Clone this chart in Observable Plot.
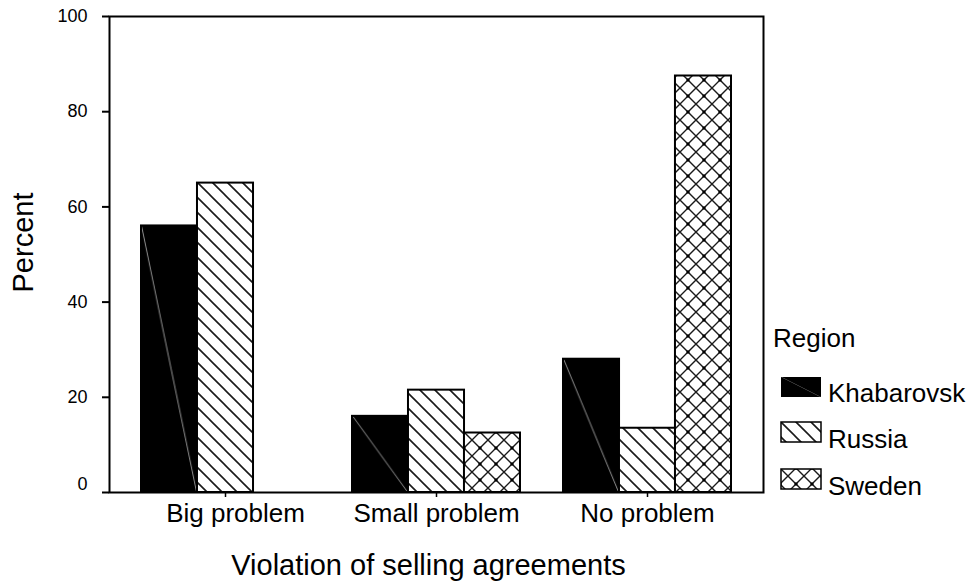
<!DOCTYPE html>
<html>
<head>
<meta charset="utf-8">
<script src="https://cdn.jsdelivr.net/npm/d3@7"></script>
<script src="https://cdn.jsdelivr.net/npm/@observablehq/plot@0.6"></script>
<style>
  html, body { margin: 0; padding: 0; background: #fff; }
  #wrap { position: relative; width: 970px; height: 584px; font-family: "Liberation Sans", Arial, sans-serif; color: #000; }
  .lg { position: absolute; line-height: 1; white-space: nowrap; }
  .sw { position: absolute; }
</style>
</head>
<body>
<svg width="0" height="0" style="position:absolute">
  <defs>
    <pattern id="pKhab" patternUnits="objectBoundingBox" patternContentUnits="objectBoundingBox" width="1" height="1">
      <rect x="0" y="0" width="1" height="1" fill="#000"></rect>
      <path d="M0,0L0.016,0L1,1L0.984,1Z" fill="#a0a0a0"></path>
    </pattern>
    <pattern id="pRussia" patternUnits="userSpaceOnUse" width="15" height="15">
      <rect x="0" y="0" width="15" height="15" fill="#fff"></rect>
      <path d="M0,0L15,15M-2,13L2,17M13,-2L17,2" stroke="#1a1a1a" stroke-width="1.6"></path>
    </pattern>
    <pattern id="pSweden" patternUnits="userSpaceOnUse" width="16" height="16">
      <rect x="0" y="0" width="16" height="16" fill="#fff"></rect>
      <path d="M0,0L16,16M16,0L0,16" stroke="#1a1a1a" stroke-width="1.4"></path>
      <rect x="-1.5" y="-1.5" width="3" height="3" fill="#000"></rect>
      <rect x="14.5" y="-1.5" width="3" height="3" fill="#000"></rect>
      <rect x="-1.5" y="14.5" width="3" height="3" fill="#000"></rect>
      <rect x="14.5" y="14.5" width="3" height="3" fill="#000"></rect>
    </pattern>
  </defs>
</svg>
<div id="wrap"></div>
<script>
// ---- data ----
const categories = ["Big problem", "Small problem", "No problem"];
const regions = ["Khabarovsk", "Russia", "Sweden"];
const khabarovsk = [56, 16, 28];
const russia = [65, 21.5, 13.5];
const sweden = [0, 12.5, 87.5];
const yTicks = [0, 20, 40, 60, 80, 100];
const xTitle = "Violation of selling agreements";
const yTitle = "Percent";
const legendTitle = "Region";

const seriesValues = [khabarovsk, russia, sweden];
const rows = categories.flatMap((c, i) => regions.map((r, j) => ({category: c, region: r, value: seriesValues[j][i]})));

const fills = {Khabarovsk: "url(#pKhab)", Russia: "url(#pRussia)", Sweden: "url(#pSweden)"};

const W = 970, H = 584;
const mL = 109, mR = 207, mT = 16, mB = 92;
const padIn = 0.206, padOut = 0.149;
const innerW = W - mL - mR;
const step = innerW / (categories.length - padIn + 2 * padOut);
const bw = step * (1 - padIn);
const barW = bw / regions.length;

const font = '"Liberation Sans", Arial, sans-serif';

const barMarks = regions.map((r, j) =>
  Plot.barY(rows.filter(d => d.region === r), {
    x: "category",
    y: "value",
    fill: fills[r],
    stroke: "#000",
    strokeWidth: 2,
    insetLeft: j * barW,
    insetRight: (regions.length - 1 - j) * barW
  })
);

const chart = Plot.plot({
  width: W,
  height: H,
  marginLeft: mL,
  marginRight: mR,
  marginTop: mT,
  marginBottom: mB,
  style: {fontFamily: font, color: "#000", background: "#fff"},
  x: {domain: categories, paddingInner: padIn, paddingOuter: padOut, align: 0.5},
  y: {domain: [0, 100]},
  marks: [
    ...barMarks,
    Plot.frame({stroke: "#000", strokeWidth: 2}),
    Plot.axisY({ticks: yTicks, tickSize: 7, tickPadding: 15, fontSize: 18, strokeWidth: 2, label: null,
      tickFormat: t => t === 0 ? "" : String(t)}),
    Plot.axisY({ticks: yTicks.filter(t => t === 0), tickSize: 0, tickPadding: 22, fontSize: 18, dy: -8, label: null}),
    Plot.axisX({tickSize: 5, tickPadding: 6, fontSize: 26, strokeWidth: 1.5, label: null, dx: 0,
      tickFormat: c => c === categories[0] ? "" : c}),
    Plot.axisX({ticks: categories.slice(0, 1), tickSize: 0, tickPadding: 11, fontSize: 26, dx: 10, label: null}),
    Plot.text([yTitle], {frameAnchor: "left", textAnchor: "middle", lineAnchor: "middle", dx: -86, dy: -12, rotate: -90, fontSize: 29}),
    Plot.text([xTitle], {frameAnchor: "bottom", textAnchor: "middle", dy: 82, dx: -8, fontSize: 29})
  ]
});

const wrap = document.getElementById("wrap");
wrap.appendChild(chart);
chart.style.position = "absolute";
chart.style.left = "0px";
chart.style.top = "0px";

// ---- legend ----
function addText(txt, left, top, size) {
  const d = document.createElement("div");
  d.className = "lg";
  d.textContent = txt;
  d.style.left = left + "px";
  d.style.top = top + "px";
  d.style.fontSize = size + "px";
  wrap.appendChild(d);
}
addText(legendTitle, 773, 325, 26);
const swTops = [377, 422, 469];
const lbTops = [380, 426, 473];
regions.forEach((r, j) => {
  const s = d3.create("svg").attr("class", "sw").attr("width", 42).attr("height", 22)
    .style("left", "780px").style("top", (swTops[j] - 1) + "px");
  s.append("rect").attr("x", 1).attr("y", 1).attr("width", 40).attr("height", 20)
    .attr("fill", fills[r]).attr("stroke", "#000").attr("stroke-width", r === "Khabarovsk" ? 0 : 1.5);
  wrap.appendChild(s.node());
  addText(r, 828, lbTops[j], 26);
});
</script>
</body>
</html>
